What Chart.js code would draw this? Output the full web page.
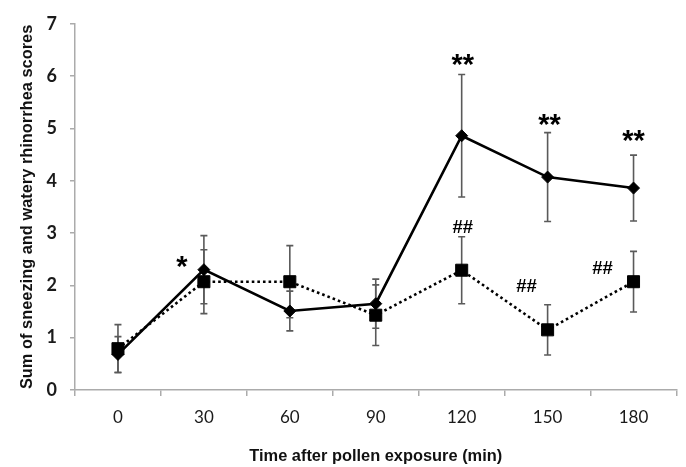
<!DOCTYPE html>
<html>
<head>
<meta charset="utf-8">
<script src="https://cdn.jsdelivr.net/npm/chart.js@4/dist/chart.umd.min.js"></script>
<style>
  html, body { margin: 0; padding: 0; background: #ffffff; }
  #wrap { width: 686px; height: 467px; }
</style>
</head>
<body>
<div id="wrap"><canvas id="c" width="686" height="467"></canvas></div>
<script>
// ---- data ----
const categories   = ['0', '30', '60', '90', '120', '150', '180'];
const solidMean    = [0.68, 2.30, 1.51, 1.65, 4.86, 4.07, 3.86];
const solidErr     = [0.34, 0.65, 0.38, 0.47, 1.17, 0.85, 0.63];
const dottedMean   = [0.79, 2.07, 2.07, 1.43, 2.29, 1.15, 2.07];
const dottedErr    = [0.46, 0.61, 0.69, 0.58, 0.64, 0.48, 0.58];
const solidMarks   = ['', '*', '', '', '**', '**', '**'];
const dottedMarks  = ['', '', '', '', '##', '##', '##'];
const yTickValues  = [0, 1, 2, 3, 4, 5, 6, 7];

// ---- styling (offsets of significance marks relative to error-bar top, px) ----
const solidMarkOffsets  = [null, [-22, 26], null, null, [1, -15], [2, -13], [0, -19]];
const dottedMarkOffsets = [null, null, null, null, [1, -10], [-21, -19], [-31, 16]];

const AXIS_GREY = '#ababab';

const errorBarPlugin = {
  id: 'errorBars',
  beforeDatasetsDraw(chart) {
    const ctx = chart.ctx;
    const y = chart.scales.y;
    const sets = [[0, solidMean, solidErr], [1, dottedMean, dottedErr]];
    ctx.save();
    ctx.strokeStyle = '#5a5a5a';
    ctx.lineWidth = 1.6;
    sets.forEach(([di, mean, err]) => {
      const meta = chart.getDatasetMeta(di);
      mean.forEach((v, i) => {
        const px = meta.data[i].x;
        const top = y.getPixelForValue(v + err[i]);
        const bot = y.getPixelForValue(v - err[i]);
        ctx.beginPath();
        ctx.moveTo(px, top); ctx.lineTo(px, bot);
        ctx.moveTo(px - 3.5, top); ctx.lineTo(px + 3.5, top);
        ctx.moveTo(px - 3.5, bot); ctx.lineTo(px + 3.5, bot);
        ctx.stroke();
      });
    });
    ctx.restore();
  },
  afterDatasetsDraw(chart) {
    const ctx = chart.ctx;
    const y = chart.scales.y;
    ctx.save();
    ctx.fillStyle = '#000';
    ctx.textAlign = 'center';
    ctx.textBaseline = 'alphabetic';
    const drawSet = (di, marks, mean, err, offs, font) => {
      const meta = chart.getDatasetMeta(di);
      ctx.font = font;
      marks.forEach((m, i) => {
        if (!m) return;
        const px = meta.data[i].x + offs[i][0];
        const top = y.getPixelForValue(mean[i] + err[i]) + offs[i][1];
        const tm = ctx.measureText(m);
        const asc = tm.actualBoundingBoxAscent, desc = tm.actualBoundingBoxDescent;
        ctx.fillText(m, px, top + (asc - desc) / 2);
      });
    };
    drawSet(0, solidMarks, solidMean, solidErr, solidMarkOffsets, 'bold 29px "Liberation Sans", Arial, sans-serif');
    drawSet(1, dottedMarks, dottedMean, dottedErr, dottedMarkOffsets, 'bold 18.5px "Liberation Sans", Arial, sans-serif');
    ctx.restore();
  }
};

new Chart(document.getElementById('c'), {
  type: 'line',
  data: {
    labels: categories,
    datasets: [
      {
        label: 'solid',
        data: solidMean,
        borderColor: '#000',
        backgroundColor: '#000',
        borderWidth: 2.6,
        pointStyle: 'rectRot',
        pointRadius: 6,
        pointBorderWidth: 1,
        pointBackgroundColor: '#000',
        pointBorderColor: '#000',
        tension: 0,
        fill: false
      },
      {
        label: 'dotted',
        data: dottedMean,
        borderColor: '#000',
        backgroundColor: '#000',
        borderWidth: 2.6,
        borderDash: [2.6, 3],
        pointStyle: 'rect',
        pointRadius: 8.5,
        pointBorderWidth: 1,
        pointBackgroundColor: '#000',
        pointBorderColor: '#000',
        tension: 0,
        fill: false
      }
    ]
  },
  options: {
    responsive: false,
    animation: false,
    devicePixelRatio: 1,
    layout: { padding: { top: 16, right: 8, left: 0, bottom: 0 } },
    plugins: { legend: { display: false }, tooltip: { enabled: false } },
    scales: {
      x: {
        type: 'category',
        offset: true,
        grid: { offset: true, drawOnChartArea: false, drawTicks: true, tickLength: 6, color: AXIS_GREY, lineWidth: 1.5 },
        border: { color: AXIS_GREY, width: 1.5 },
        ticks: { font: { family: 'Lato', size: 17 }, color: '#1a1a1a', padding: 11, maxRotation: 0 },
        title: {
          display: true,
          text: 'Time after pollen exposure (min)',
          font: { family: '"Liberation Sans", Arial, sans-serif', weight: 'bold', size: 16.4 },
          color: '#111',
          padding: { top: 0, bottom: 1 }
        },
        afterFit(s) { s.height = 77; }
      },
      y: {
        min: 0,
        max: 7,
        afterBuildTicks(s) { s.ticks = yTickValues.map(v => ({ value: v })); },
        grid: { drawOnChartArea: false, drawTicks: true, tickLength: 5, color: AXIS_GREY, lineWidth: 1.5 },
        border: { color: AXIS_GREY, width: 1.5 },
        ticks: { font: { family: 'Lato', size: 18, weight: 'bold' }, color: '#1a1a1a', padding: 13 },
        title: {
          display: true,
          text: 'Sum of sneezing and watery rhinorrhea scores',
          font: { family: '"Liberation Sans", Arial, sans-serif', weight: 'bold', size: 16.4 },
          color: '#111',
          padding: { top: 18, bottom: 0 }
        },
        afterFit(s) { s.width = 75; }
      }
    }
  },
  plugins: [errorBarPlugin]
});
</script>
</body>
</html>
